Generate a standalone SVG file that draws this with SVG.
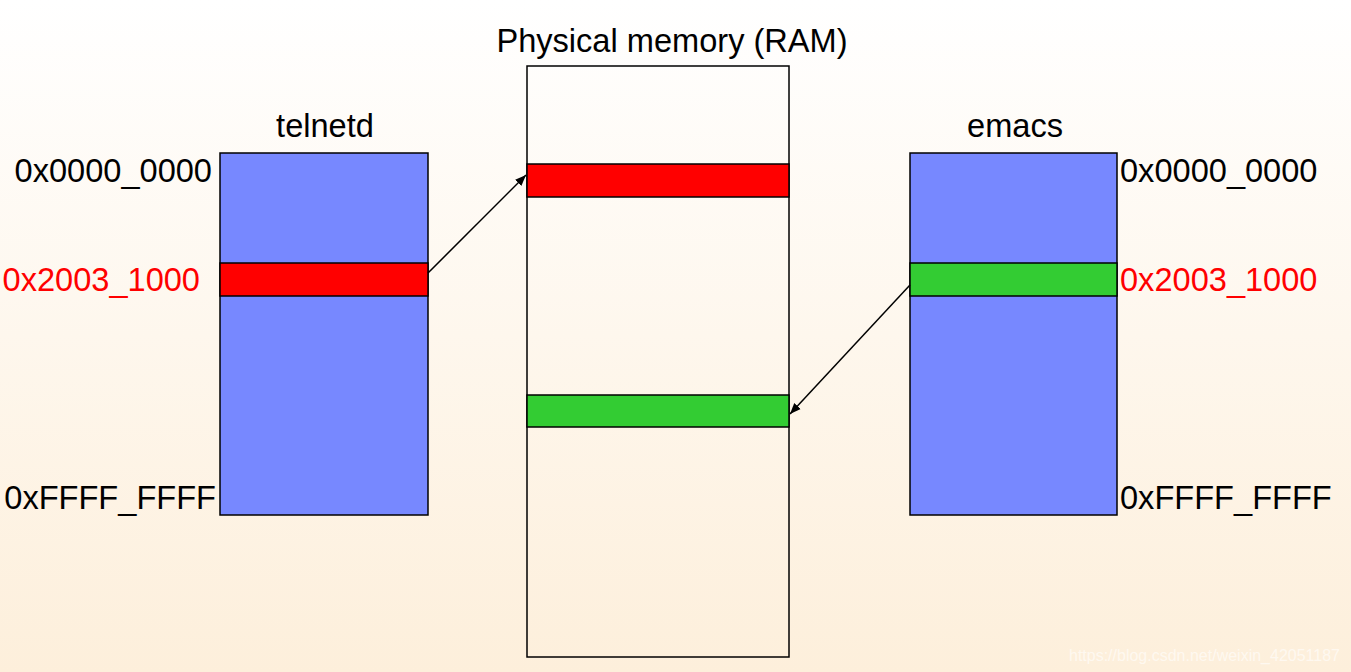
<svg xmlns="http://www.w3.org/2000/svg" width="1351" height="672" viewBox="0 0 1351 672">
<defs>
<linearGradient id="bg" x1="0" y1="0" x2="0" y2="1">
<stop offset="0" stop-color="#ffffff"/>
<stop offset="1" stop-color="#fdefdb"/>
</linearGradient>
<marker id="ah" viewBox="0 0 10 10" refX="10" refY="5" markerWidth="11" markerHeight="11" markerUnits="userSpaceOnUse" orient="auto">
<path d="M0,1 L10,5 L0,9 Z" fill="#000"/>
</marker>
</defs>
<style>
text{font-family:"Liberation Sans",Arial,sans-serif;font-size:32.6px;fill:#000}
.red{fill:#ff0000}
.box{stroke:#000;stroke-width:1.5}
.blue{fill:#7788ff}
.r{fill:#ff0000}
.g{fill:#33cc33}
.ram{fill:none}
.conn{stroke:#000;stroke-width:1.5;fill:none;marker-end:url(#ah)}
</style>
<rect x="0" y="0" width="1351" height="672" fill="url(#bg)"/>
<g id="ram">
<text x="672" y="52" text-anchor="middle">Physical memory (RAM)</text>
<rect class="box ram" x="527" y="66" width="262" height="591"/>
<rect class="box r" x="527" y="164" width="262" height="33"/>
<rect class="box g" x="527" y="395" width="262" height="32"/>
</g>
<g id="telnetd">
<text x="325" y="137" text-anchor="middle">telnetd</text>
<rect class="box blue" x="220" y="153" width="208" height="362"/>
<rect class="box r" x="220" y="263" width="208" height="33"/>
<text x="212" y="182" text-anchor="end">0x0000_0000</text>
<text class="red" x="200" y="291" text-anchor="end">0x2003_1000</text>
<text x="216" y="509" text-anchor="end">0xFFFF_FFFF</text>
</g>
<g id="emacs">
<text x="1015" y="137" text-anchor="middle">emacs</text>
<rect class="box blue" x="910" y="153" width="207" height="362"/>
<rect class="box g" x="910" y="263" width="207" height="33"/>
<text x="1120" y="182">0x0000_0000</text>
<text class="red" x="1120" y="291">0x2003_1000</text>
<text x="1120" y="509">0xFFFF_FFFF</text>
</g>
<g id="connectors">
<line class="conn" x1="428" y1="273" x2="526" y2="175"/>
<line class="conn" x1="910" y1="285" x2="790" y2="414"/>
</g>
<text x="1340" y="661" text-anchor="end" style="font-size:16px;fill:#ffffff;fill-opacity:0.6">https://blog.csdn.net/weixin_42051187</text>
</svg>
